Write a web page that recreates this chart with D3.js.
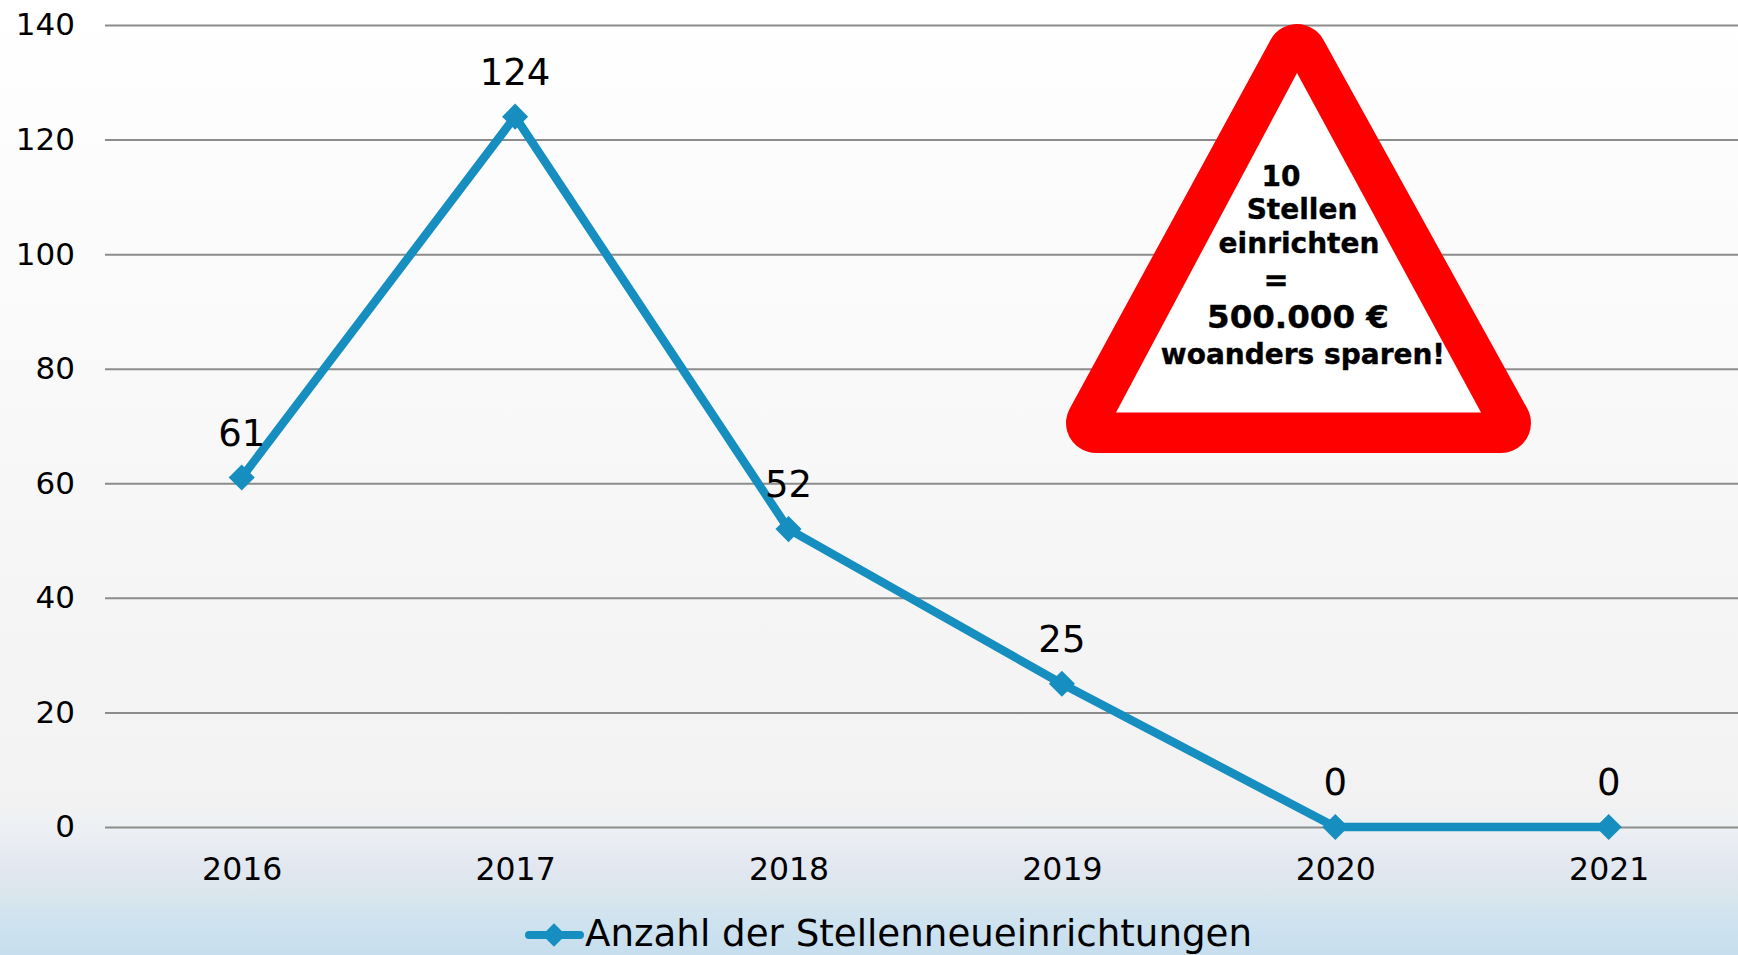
<!DOCTYPE html>
<html><head><meta charset="utf-8">
<script src="https://cdn.jsdelivr.net/npm/d3@7"></script>
<style>html,body{margin:0;padding:0;overflow:hidden;background:#fff}svg{display:block}
text{font-family:"DejaVu Sans",sans-serif;fill:#000}</style></head><body>
<script>
const years=["2016","2017","2018","2019","2020","2021"];
const values=[61,124,52,25,0,0];
const yTicks=[0,20,40,60,80,100,120,140];
const seriesName="Anzahl der Stellenneueinrichtungen";
const signLines=[
 {t:"10",x:1281,y:185.5,s:28},{t:"Stellen",x:1302,y:218.5,s:28},{t:"einrichten",x:1299,y:252.5,s:28},
 {t:"=",x:1276,y:290,s:30},{t:"500.000 €",x:1298,y:328,s:32.5},{t:"woanders sparen!",x:1303,y:363.5,s:28}];
const W=1738,H=955;
const svg=d3.select("body").append("svg").attr("width",W).attr("height",H);
const defs=svg.append("defs");
const g=defs.append("linearGradient").attr("id","bg").attr("x1",0).attr("x2",0).attr("y1",0).attr("y2",1);
[[0,"#ffffff"],[.84,"#f2f2f2"],[.865,"#edf0f3"],[.905,"#e3e7f0"],[.935,"#dae6ec"],[.96,"#d0e3ef"],[1,"#c6deee"]].forEach(d=>g.append("stop").attr("offset",d[0]).attr("stop-color",d[1]));
svg.append("rect").attr("width",W).attr("height",H).attr("fill","url(#bg)");
const x=d3.scalePoint().domain(years).range([241.7,1608.7]);
const y=d3.scaleLinear().domain([0,140]).range([827,25]);
const yAx=svg.append("g").attr("transform","translate(105,0)").call(d3.axisLeft(y).tickValues(yTicks).tickSize(-1640).tickPadding(30));
yAx.select(".domain").remove();
yAx.selectAll("line").attr("stroke","#8c8c8c").attr("stroke-width",2);
yAx.selectAll("text").attr("font-size",31).attr("font-family",'"DejaVu Sans",sans-serif').attr("fill","#000");
const xAx=svg.append("g").attr("transform","translate(0,827)").call(d3.axisBottom(x).tickSize(0).tickPadding(31));
xAx.select(".domain").remove();
xAx.selectAll("text").attr("font-size",31.5).attr("font-family",'"DejaVu Sans",sans-serif').attr("fill","#000");
const col="#168fc0";
const line=d3.line().x((d,i)=>x(years[i])).y(d=>y(d));
svg.append("path").attr("d",line(values)).attr("fill","none").attr("stroke",col).attr("stroke-width",8.5).attr("stroke-linejoin","miter");
const diamond=d3.symbol().type(d3.symbolSquare).size(340);
svg.selectAll(".pt").data(values).join("path").attr("class","pt").attr("d",diamond())
 .attr("transform",(d,i)=>`translate(${x(years[i])},${y(d)}) rotate(45)`).attr("fill",col);
svg.selectAll(".lbl").data(values).join("text").attr("class","lbl").attr("text-anchor","middle")
 .attr("font-size",37).attr("x",(d,i)=>x(years[i])).attr("y",d=>y(d)-32).text(d=>d);
// warning sign
const inner=[[1297,73],[1116,412.5],[1481,412.5]];
const mid=[[1297,54],[1096,423],[1501,423]];
const tri=d3.line();
svg.append("path").attr("d",tri(mid)+"Z").attr("fill","#ff0000").attr("stroke","#ff0000").attr("stroke-width",60).attr("stroke-linejoin","round");
svg.append("path").attr("d",tri(inner)+"Z").attr("fill","#fff");
svg.selectAll(".sign").data(signLines).join("text").attr("class","sign").attr("text-anchor","middle").attr("font-weight","bold")
 .attr("stroke","#000").attr("stroke-width",0.4)
 .attr("x",d=>d.x).attr("y",d=>d.y).attr("font-size",d=>d.s).text(d=>d.t);
// legend
const ly=935;
const legendMark=d3.symbol().type(d3.symbolSquare).size(274);
svg.append("line").attr("x1",529).attr("x2",580).attr("y1",ly).attr("y2",ly).attr("stroke",col).attr("stroke-width",8).attr("stroke-linecap","round");
svg.append("path").attr("d",legendMark()).attr("transform",`translate(554,${ly}) rotate(45)`).attr("fill",col);
svg.append("text").attr("x",585).attr("y",946).attr("font-size",37.2).text(seriesName);
</script></body></html>
